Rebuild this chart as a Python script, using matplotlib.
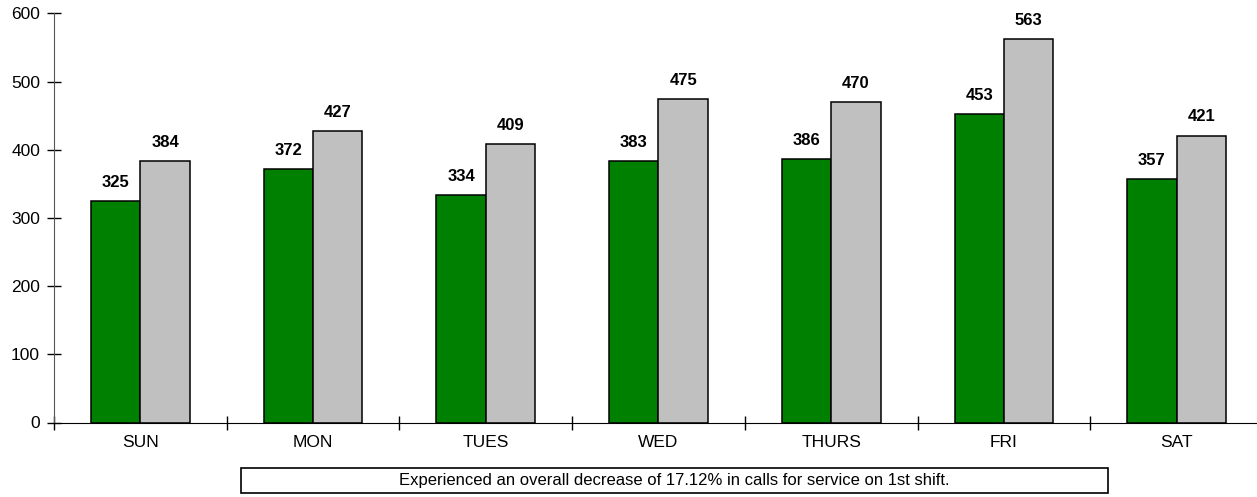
import numpy as np
import matplotlib.pyplot as plt
from matplotlib.patches import Rectangle
from matplotlib.ticker import FixedLocator

plt.rcParams['font.family'] = ['Liberation Sans', 'DejaVu Sans']

days = ['SUN', 'MON', 'TUES', 'WED', 'THURS', 'FRI', 'SAT']
first = [325, 372, 334, 383, 386, 453, 357]
second = [384, 427, 409, 475, 470, 563, 421]
caption = 'Experienced an overall decrease of 17.12% in calls for service on 1st shift.'

W, H = 1257, 497
fig = plt.figure(figsize=(W/100, H/100), dpi=100)
ax = fig.add_axes([54/W, 1 - 422.5/H, (1263 - 54)/W, (422.5 - 13.5)/H])

x = np.arange(len(days))
w = 0.286
b1 = ax.bar(x - w/2, first, w, color='#008000', edgecolor='black', linewidth=1.1)
b2 = ax.bar(x + w/2, second, w, color='#C0C0C0', edgecolor='black', linewidth=1.1)
for bars in (b1, b2):
    ax.bar_label(bars, padding=8, fontsize=12, fontweight='bold')

ax.set_xlim(-0.5, len(days) - 0.5)
ax.set_ylim(0, 600)
ax.set_yticks(range(0, 601, 100))
ax.set_xticks(x)
ax.set_xticklabels(days, fontsize=12.5)
ax.tick_params(axis='x', which='major', length=0, pad=9)
ax.xaxis.set_minor_locator(FixedLocator(np.arange(-0.5, len(days), 1)))
ax.tick_params(axis='x', which='minor', direction='inout', length=10, width=1)
ax.tick_params(axis='y', direction='inout', length=10, width=1, labelsize=12.5, pad=5)
for s in ('top', 'right'):
    ax.spines[s].set_visible(False)
ax.spines['left'].set_color('#555555')
ax.spines['bottom'].set_color('black')

# caption box
fig.patches.append(Rectangle((241/W, 1 - 493/H), (1108 - 241)/W, 25/H,
                             transform=fig.transFigure, facecolor='white',
                             edgecolor='black', linewidth=1.2))
fig.text(674/W, 1 - 481/H, caption, ha='center', va='center', fontsize=12)

plt.savefig('out.png')
